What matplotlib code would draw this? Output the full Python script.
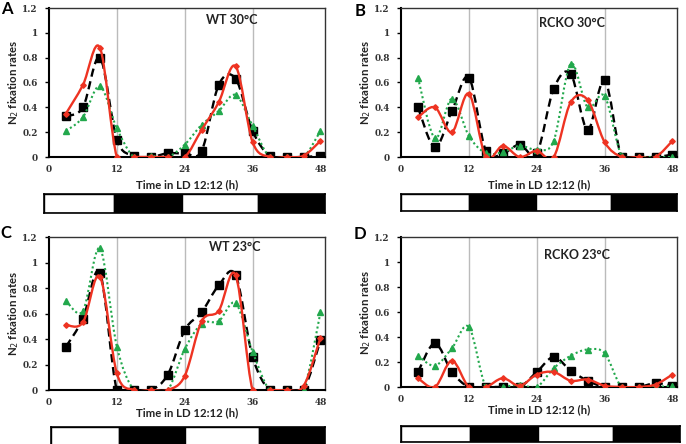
import matplotlib
matplotlib.use("Agg")
import matplotlib.pyplot as plt
import numpy as np
from matplotlib.path import Path
from matplotlib.patches import PathPatch, Rectangle

# ---------------- data ----------------
hours = [3, 6, 9, 12, 15, 18, 21, 24, 27, 30, 33, 36, 39, 42, 45, 48]

wt30_black = [0.33, 0.40, 0.80, 0.14, 0.01, 0.00, 0.03, 0.03, 0.05, 0.58, 0.63, 0.21, 0.01, 0.00, 0.00, 0.01]
wt30_red   = [0.35, 0.58, 0.88, 0.00, 0.00, 0.00, 0.00, 0.00, 0.22, 0.44, 0.73, 0.12, 0.00, 0.00, 0.01, 0.13]
wt30_green = [0.21, 0.32, 0.57, 0.23, 0.00, 0.01, 0.00, 0.10, 0.26, 0.37, 0.50, 0.25, 0.00, 0.00, 0.00, 0.21]

rcko30_black = [0.40, 0.08, 0.37, 0.64, 0.05, 0.03, 0.10, 0.03, 0.55, 0.67, 0.22, 0.62, 0.00, 0.00, 0.00, 0.02]
rcko30_red   = [0.32, 0.40, 0.20, 0.51, 0.00, 0.09, 0.00, 0.05, 0.00, 0.44, 0.46, 0.12, 0.00, 0.00, 0.00, 0.13]
rcko30_green = [0.64, 0.15, 0.47, 0.17, 0.03, 0.04, 0.09, 0.06, 0.13, 0.75, 0.40, 0.49, 0.01, 0.00, 0.00, 0.00]

wt23_black = [0.34, 0.56, 0.92, 0.00, 0.00, 0.00, 0.12, 0.47, 0.61, 0.82, 0.90, 0.26, 0.00, 0.00, 0.00, 0.39]
wt23_red   = [0.51, 0.53, 0.89, 0.13, 0.00, 0.00, 0.00, 0.11, 0.54, 0.62, 0.90, 0.00, 0.00, 0.00, 0.03, 0.41]
wt23_green = [0.70, 0.62, 1.11, 0.34, 0.00, 0.00, 0.00, 0.32, 0.52, 0.54, 0.68, 0.30, 0.00, 0.00, 0.00, 0.61]

rcko23_black = [0.12, 0.35, 0.12, 0.00, 0.00, 0.00, 0.00, 0.12, 0.24, 0.13, 0.05, 0.00, 0.00, 0.00, 0.03, 0.01]
rcko23_red   = [0.07, 0.00, 0.21, 0.00, 0.00, 0.07, 0.01, 0.10, 0.12, 0.05, 0.06, 0.01, 0.00, 0.00, 0.02, 0.10]
rcko23_green = [0.25, 0.17, 0.31, 0.48, 0.00, 0.00, 0.02, 0.00, 0.15, 0.25, 0.30, 0.27, 0.00, 0.00, 0.00, 0.01]

panel_letters = ["A", "B", "C", "D"]
panel_titles = ["WT 30\u00b0C", "RCKO 30\u00b0C", "WT 23\u00b0C", "RCKO 23\u00b0C"]
x_ticks = [0, 12, 24, 36, 48]
y_ticks = [0, 0.2, 0.4, 0.6, 0.8, 1.0, 1.2]
y_ticklabels = ["0", "0.2", "0.4", "0.6", "0.8", "1", "1.2"]
x_label = "Time in LD 12:12 (h)"
y_label = "N$_2$ fixation rates"
# light/dark bar boundaries (hours on bar scale) and fill (light=white, dark=black)
ld_bounds = [0, 11.9, 23.5, 36.5, 48]
ld_fill = ["white", "black", "white", "black"]

RED = "#EE3322"
GREEN = "#22A84C"

W, H = 686, 444
fig = plt.figure(figsize=(W / 100, H / 100), dpi=100)


def px(l, t, r, b):
    return [l / W, 1 - b / H, (r - l) / W, (b - t) / H]


ax_rects = [px(49, 8, 325, 157), px(401, 8, 677, 157),
            px(49, 237, 325, 390), px(401, 237, 677, 387)]
ax_left = [49, 401, 49, 401]
bar_rects = [px(44, 194, 325, 213), px(401, 194, 677, 211),
             px(51, 427, 325, 446), px(401, 426, 680, 442)]
title_pos = [(32.4, 1.10), (30.2, 1.08), (32.9, 1.12), (31.1, 1.06)]
letter_pos = [(1, 9), (355, 11), (0, 233), (354, 234)]
ylabel_x = [21, 373, 21, 373]
xlabel_y = [185, 185, 413, 410]

series = [(wt30_black, wt30_red, wt30_green),
          (rcko30_black, rcko30_red, rcko30_green),
          (wt23_black, wt23_red, wt23_green),
          (rcko23_black, rcko23_red, rcko23_green)]

tickfont = dict(family="DejaVu Serif", weight="bold", size=6.4)
labfont = dict(fontsize=8.2, fontweight="bold", family="Lato", color="#222222")


def smooth_path(x, y, t=1 / 6):
    x = np.asarray(x, float)
    y = np.asarray(y, float)
    n = len(x)
    verts = [(x[0], y[0])]
    codes = [Path.MOVETO]
    for i in range(n - 1):
        i0 = max(i - 1, 0)
        i3 = min(i + 2, n - 1)
        c1 = (x[i] + (x[i + 1] - x[i0]) * t, y[i] + (y[i + 1] - y[i0]) * t)
        c2 = (x[i + 1] - (x[i3] - x[i]) * t, y[i + 1] - (y[i3] - y[i]) * t)
        verts += [c1, c2, (x[i + 1], y[i + 1])]
        codes += [Path.CURVE4] * 3
    return Path(verts, codes)


for k in range(4):
    ax = fig.add_axes(ax_rects[k])
    ax.set_xlim(0, 48.8)
    ax.set_ylim(0, 1.2)
    for g in [12, 24, 36]:
        ax.axvline(g, color="#BBBBBB", lw=1.0, zorder=0)
    blk, red, grn = series[k]
    # black dashed
    ax.add_patch(PathPatch(smooth_path(hours, blk), fill=False, ec="black",
                           lw=1.7, ls=(0, (3.5, 2)), zorder=2))
    ax.plot(hours, blk, ls="none", marker="s", ms=5.2, color="black", zorder=3)
    # green dotted
    ax.add_patch(PathPatch(smooth_path(hours, grn), fill=False, ec=GREEN,
                           lw=1.5, ls=(0, (1, 1.3)), zorder=4))
    ax.plot(hours, grn, ls="none", marker="^", ms=4.8, color=GREEN, zorder=5)
    # red solid
    ax.add_patch(PathPatch(smooth_path(hours, red), fill=False, ec=RED,
                           lw=1.7, zorder=6))
    ax.plot(hours, red, ls="none", marker="D", ms=2.8, color=RED, zorder=7)

    ax.set_xticks(x_ticks)
    ax.set_xticklabels([str(v) for v in x_ticks], fontdict=tickfont, color="#333333")
    ax.set_yticks(y_ticks)
    ax.set_yticklabels(y_ticklabels, fontdict=tickfont, color="#333333")
    ax.tick_params(axis="x", length=0, pad=6)
    ax.tick_params(axis="y", length=3, width=1, pad=5)
    for s in ["left", "bottom"]:
        ax.spines[s].set_linewidth(1.5)
        ax.spines[s].set_color("black")
    for s in ["top", "right"]:
        ax.spines[s].set_linewidth(1.0)
        ax.spines[s].set_color("#333333")
    ax.text(title_pos[k][0], title_pos[k][1], panel_titles[k], ha="center",
            va="center", fontsize=9, fontweight="bold", family="Lato", color="#222222")
    ax.set_xlabel(x_label, **labfont)
    ax.set_ylabel(y_label, **labfont)
    aw = ax_rects[k][2] * W
    ah = ax_rects[k][3] * H
    ax_bottom_px = (1 - ax_rects[k][1]) * H
    ax.yaxis.set_label_coords((ylabel_x[k] - ax_left[k]) / aw, 0.5)
    ax.xaxis.set_label_coords(0.5, -(xlabel_y[k] - ax_bottom_px) / ah)
    ax.xaxis.label.set_va("center")

    # light/dark bar
    bx = fig.add_axes(bar_rects[k])
    bx.set_xlim(ld_bounds[0], ld_bounds[-1])
    bx.set_ylim(0, 1)
    for j in range(len(ld_fill)):
        bx.add_patch(Rectangle((ld_bounds[j], 0), ld_bounds[j + 1] - ld_bounds[j], 1,
                               fc=ld_fill[j], ec="black", lw=1.0))
    bx.set_xticks([])
    bx.set_yticks([])
    for s in bx.spines.values():
        s.set_linewidth(1.2)

    fig.text(letter_pos[k][0] / W, 1 - letter_pos[k][1] / H, panel_letters[k],
             ha="left", va="center", fontsize=12, fontweight="bold", family="Lato")

fig.savefig("out.png", dpi=100)
